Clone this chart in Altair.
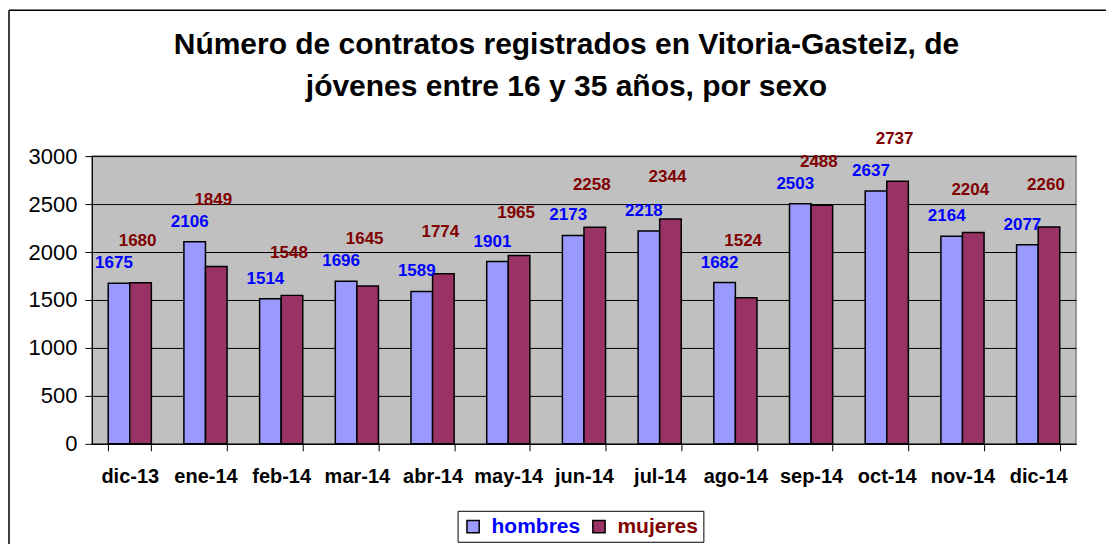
import altair as alt
import pandas as pd

meses = ["dic-13", "ene-14", "feb-14", "mar-14", "abr-14", "may-14", "jun-14",
         "jul-14", "ago-14", "sep-14", "oct-14", "nov-14", "dic-14"]
hombres = [1675, 2106, 1514, 1696, 1589, 1901, 2173, 2218, 1682, 2503, 2637, 2164, 2077]
mujeres = [1680, 1849, 1548, 1645, 1774, 1965, 2258, 2344, 1524, 2488, 2737, 2204, 2260]
series = ["hombres", "mujeres"]
title_lines = ["Número de contratos registrados en Vitoria-Gasteiz, de",
               "jóvenes entre 16 y 35 años, por sexo"]

rows = []
for i, m in enumerate(meses):
    rows.append({"mes": m, "sexo": series[0], "valor": hombres[i]})
    rows.append({"mes": m, "sexo": series[1], "valor": mujeres[i]})
df = pd.DataFrame(rows)
one = pd.DataFrame({"k": [0]})

FONT = "Liberation Sans"

x = alt.X("mes:N", sort=meses, title=None,
          scale=alt.Scale(paddingInner=0.43, paddingOuter=0.215),
          axis=alt.Axis(labelAngle=0, labelFont=FONT, labelFontSize=20,
                        labelFontWeight="bold", labelColor="black",
                        labelPadding=16, tickSize=7, tickColor="black",
                        domainColor="black", tickBand="extent", grid=False))
yscale = alt.Scale(domain=[0, 3000])
y = alt.Y("valor:Q", title=None, scale=yscale,
          axis=alt.Axis(values=[0, 500, 1000, 1500, 2000, 2500, 3000], format="d",
                        labelFont=FONT, labelFontSize=22, labelColor="black",
                        labelPadding=8, tickSize=7, tickColor="black",
                        domainColor="black", gridColor="black", gridOpacity=1))
xo = alt.XOffset("sexo:N", sort=series)

bars = alt.Chart(df).mark_bar(stroke="black", strokeWidth=1.5).encode(
    x=x, y=y, xOffset=xo,
    color=alt.Color("sexo:N", sort=series,
                    scale=alt.Scale(domain=series, range=["#9999FF", "#993366"]),
                    legend=alt.Legend(
                        title=None, orient="none", legendX=366, legendY=355,
                        direction="horizontal", strokeColor="black",
                        fillColor="white", padding=5, columnPadding=8,
                        symbolType="square", symbolSize=150,
                        symbolStrokeColor="black", symbolStrokeWidth=1.5,
                        labelFont=FONT, labelFontSize=21, labelFontWeight="bold",
                        labelOffset=8,
                        labelColor={"expr": "datum.label == 'hombres' ? '#0000FF' : '#800000'"}))
)

lab_h = alt.Chart(df).transform_filter(alt.datum.sexo == "hombres").mark_text(
    font=FONT, fontSize=17, fontWeight="bold", color="#0000FF", dy=-20, dx=-5,
    baseline="middle"
).encode(x=x, y=alt.Y("valor:Q", scale=yscale), xOffset=xo, text="valor:Q")

lab_m = alt.Chart(df).transform_joinaggregate(
    maxpar="max(valor)", groupby=["mes"]
).transform_filter(alt.datum.sexo == "mujeres").mark_text(
    font=FONT, fontSize=17, fontWeight="bold", color="#800000", dy=-42, dx=-3,
    baseline="middle"
).encode(x=x, y=alt.Y("maxpar:Q", scale=yscale), xOffset=xo, text="valor:Q")

titulo = alt.Chart(one).mark_text(
    text=title_lines, font=FONT, fontSize=30, fontWeight="bold", color="black",
    lineHeight=42, align="center", baseline="middle"
).encode(x=alt.value(475), y=alt.value(-111))

border_top = alt.Chart(one).mark_rule(color="black", strokeWidth=1.5).encode(
    x=alt.value(-83), x2=alt.value(1040), y=alt.value(-146))
border_left = alt.Chart(one).mark_rule(color="black", strokeWidth=1.5).encode(
    x=alt.value(-83), y=alt.value(-146), y2=alt.value(420))

chart = alt.layer(bars, lab_h, lab_m, titulo, border_top, border_left).properties(
    width=985, height=288,
    autosize=alt.AutoSizeParams(type="none"),
    padding={"left": 84, "top": 148, "right": 30, "bottom": 100},
).configure_view(fill="#C0C0C0", stroke="#808080", strokeWidth=1.5
).configure_axis(gridWidth=1)

chart.save("out.html", embed_options={"renderer": "svg", "actions": False})
